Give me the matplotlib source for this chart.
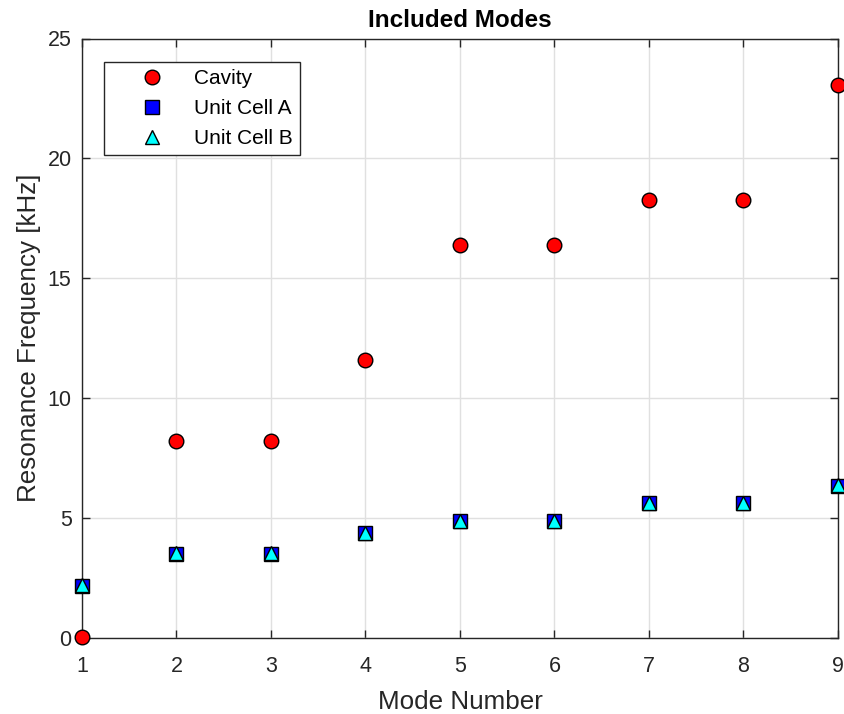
import matplotlib
matplotlib.use("Agg")
import matplotlib.pyplot as plt

plt.rcParams['font.family'] = ['Liberation Sans', 'DejaVu Sans']

modes = [1, 2, 3, 4, 5, 6, 7, 8, 9]
cavity = [0.03, 8.2, 8.2, 11.57, 16.37, 16.37, 18.27, 18.27, 23.05]
unit_cell_a = [2.15, 3.5, 3.5, 4.35, 4.85, 4.85, 5.6, 5.6, 6.32]
unit_cell_b = [2.18, 3.52, 3.52, 4.38, 4.88, 4.88, 5.63, 5.63, 6.36]
x_ticks = [1, 2, 3, 4, 5, 6, 7, 8, 9]
y_ticks = [0, 5, 10, 15, 20, 25]

fig = plt.figure(figsize=(8.45, 7.14), dpi=100)
ax = fig.add_axes([82 / 845, (714 - 637.7) / 714, (838 - 82) / 845, (637.7 - 38.5) / 714])

ax.plot(modes, cavity, 'o', color='red', markeredgecolor='black',
        markersize=10.5, markeredgewidth=1.0, label='Cavity', clip_on=False, zorder=3)
ax.plot(modes, unit_cell_a, 's', color='blue', markeredgecolor='black',
        markersize=10.5, markeredgewidth=1.0, label='Unit Cell A', clip_on=False, zorder=3)
ax.plot(modes, unit_cell_b, '^', color='cyan', markeredgecolor='black',
        markersize=10.5, markeredgewidth=1.0, label='Unit Cell B', clip_on=False, zorder=4)

ax.set_xlim(1, 9)
ax.set_ylim(0, 25)
ax.set_xticks(x_ticks)
ax.set_yticks(y_ticks)
ax.grid(True, color='#e0e0e0', linewidth=1.0)
ax.set_axisbelow(True)
ax.tick_params(direction='in', length=5.5, width=1.0, labelsize=15.5, colors='#262626',
               top=True, right=True)
ax.tick_params(axis='x', pad=13.5)
ax.tick_params(axis='y', pad=7.5)
for s in ax.spines.values():
    s.set_color('#262626')
    s.set_linewidth(1.0)

ax.set_xlabel('Mode Number', fontsize=18.7, color='#262626', labelpad=9)
ax.set_ylabel('Resonance Frequency [kHz]', fontsize=18.7, color='#262626', labelpad=5)
ax.set_title('Included Modes', fontsize=17.5, fontweight='bold', pad=8.5)

leg = ax.legend(loc='upper left', bbox_to_anchor=(0.0295, 0.9613), borderaxespad=0,
                fontsize=15, fancybox=False, edgecolor='#262626', framealpha=1.0,
                handlelength=3.9, handletextpad=0.05, borderpad=0.36,
                labelspacing=0.52, numpoints=1)
leg.get_frame().set_linewidth(1.0)

fig.savefig('out.png', dpi=100)
